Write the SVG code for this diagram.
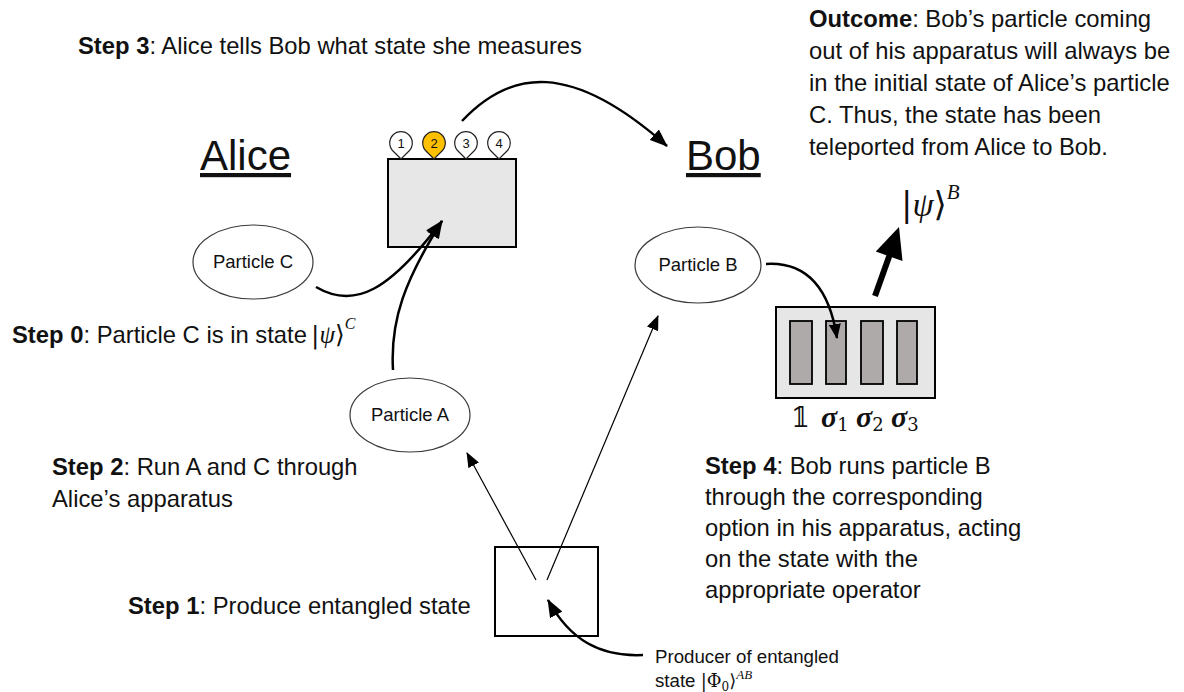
<svg xmlns="http://www.w3.org/2000/svg" width="1184" height="692" viewBox="0 0 1184 692">
<style>
  .t { font-family: "Liberation Sans", Arial, sans-serif; font-size: 23.8px; fill: #111; }
  .s { font-size: 18.7px; }
  .b { font-weight: bold; }
  .lbl { font-family: "Liberation Sans", Arial, sans-serif; font-size: 18.5px; fill: #111; text-anchor: middle; }
  .big { font-family: "Liberation Sans", Arial, sans-serif; font-size: 42px; fill: #111; text-decoration: underline; }
  .m { font-family: "DejaVu Serif", "Liberation Serif", serif; font-style: normal; fill: #111; }
  .mi { font-family: "Liberation Serif", "DejaVu Serif", serif; font-style: italic; fill: #111; }
  .pin { stroke: #222; stroke-width: 1.2; }
  .pnum { font-family: "Liberation Sans", Arial, sans-serif; font-size: 13px; fill: #111; text-anchor: middle; }
  .ell { fill: #fff; stroke: #3a3a3a; stroke-width: 1.2; }
  .c { fill: none; stroke: #000; stroke-width: 2.5; }
  .thin { fill: none; stroke: #000; stroke-width: 1.2; }
</style>
<defs>
  <marker id="ah" markerUnits="userSpaceOnUse" markerWidth="18" markerHeight="14" refX="17" refY="7" orient="auto">
    <path d="M0,0 L18,7 L0,14 z" fill="#000"/>
  </marker>
  <marker id="ahs" markerUnits="userSpaceOnUse" markerWidth="15" markerHeight="12" refX="14" refY="6" orient="auto">
    <path d="M0,0 L15,6 L0,12 z" fill="#000"/>
  </marker>
</defs>
<rect width="1184" height="692" fill="#fff"/>

<!-- Texts -->
<g id="step3-text">
  <text class="t" x="78" y="54"><tspan class="b">Step 3</tspan>: Alice tells Bob what state she measures</text>
</g>
<g id="outcome-text">
  <text class="t" x="809" y="27"><tspan class="b">Outcome</tspan>: Bob’s particle coming</text>
  <text class="t" x="809" y="59">out of his apparatus will always be</text>
  <text class="t" x="809" y="91">in the initial state of Alice’s particle</text>
  <text class="t" x="809" y="123">C. Thus, the state has been</text>
  <text class="t" x="809" y="155">teleported from Alice to Bob.</text>
</g>
<g id="alice-label"><text class="big" x="200" y="170">Alice</text></g>
<g id="bob-label"><text class="big" x="686" y="170">Bob</text></g>

<g id="step0-text">
  <text class="t" x="12" y="343"><tspan class="b">Step 0</tspan>: Particle C is in state </text>
  <text x="311" y="343" font-size="25"><tspan class="m">|</tspan><tspan class="mi">ψ</tspan><tspan class="m">⟩</tspan><tspan class="mi" font-size="16" dy="-14">C</tspan></text>
</g>
<g id="step2-text">
  <text class="t" x="52" y="475"><tspan class="b">Step 2</tspan>: Run A and C through</text>
  <text class="t" x="52" y="507">Alice’s apparatus</text>
</g>
<g id="step1-text">
  <text class="t" x="128" y="614"><tspan class="b">Step 1</tspan>: Produce entangled state</text>
</g>
<g id="step4-text">
  <text class="t" x="705" y="474"><tspan class="b">Step 4</tspan>: Bob runs particle B</text>
  <text class="t" x="705" y="505">through the corresponding</text>
  <text class="t" x="705" y="536">option in his apparatus, acting</text>
  <text class="t" x="705" y="567">on the state with the</text>
  <text class="t" x="705" y="598">appropriate operator</text>
</g>
<g id="producer-text">
  <text class="t s" x="655" y="663">Producer of entangled</text>
  <text class="t s" x="655" y="687">state <tspan class="m" font-size="18">|Φ</tspan><tspan class="m" font-size="12" dy="4">0</tspan><tspan class="m" font-size="18" dy="-4">⟩</tspan><tspan class="mi" font-size="13" dy="-8">AB</tspan></text>
</g>

<!-- Alice's apparatus -->
<g id="alice-apparatus">
  <rect x="388" y="159" width="128" height="88" fill="#e7e7e7" stroke="#000" stroke-width="2"/>
  <path class="pin" fill="#fff" d="M401,159 L393,151 A11.3,11.3 0 1 1 409,151 Z"/>
  <path class="pin" fill="#ffc000" d="M434,159 L426,151 A11.3,11.3 0 1 1 442,151 Z"/>
  <path class="pin" fill="#fff" d="M466,159 L458,151 A11.3,11.3 0 1 1 474,151 Z"/>
  <path class="pin" fill="#fff" d="M499,159 L491,151 A11.3,11.3 0 1 1 507,151 Z"/>
  <text class="pnum" x="401" y="148">1</text>
  <text class="pnum" x="434" y="148">2</text>
  <text class="pnum" x="466" y="148">3</text>
  <text class="pnum" x="499" y="148">4</text>
</g>

<!-- Particles -->
<g id="particle-c">
  <ellipse class="ell" cx="253" cy="262" rx="60" ry="37"/>
  <text class="lbl" x="253" y="268">Particle C</text>
</g>
<g id="particle-a">
  <ellipse class="ell" cx="410" cy="415" rx="60" ry="37"/>
  <text class="lbl" x="410" y="421">Particle A</text>
</g>
<g id="particle-b">
  <ellipse class="ell" cx="698" cy="265" rx="63" ry="38"/>
  <text class="lbl" x="698" y="271">Particle B</text>
</g>

<!-- Bob's apparatus -->
<g id="bob-apparatus">
  <rect x="776" y="307" width="159" height="91" fill="#e7e6e6" stroke="#000" stroke-width="2"/>
  <rect x="790" y="321" width="22" height="63" fill="#aeaaaa" stroke="#000" stroke-width="1.8"/>
  <rect x="826" y="321" width="20" height="63" fill="#aeaaaa" stroke="#000" stroke-width="1.8"/>
  <rect x="861" y="321" width="22" height="63" fill="#aeaaaa" stroke="#000" stroke-width="1.8"/>
  <rect x="897" y="321" width="20" height="63" fill="#aeaaaa" stroke="#000" stroke-width="1.8"/>
  <text class="m" x="791" y="427" font-size="27">𝟙</text>
  <text x="821" y="427" font-size="30"><tspan class="mi" font-weight="bold">σ</tspan><tspan class="m" font-size="18" dy="4">1</tspan></text>
  <text x="856" y="427" font-size="30"><tspan class="mi" font-weight="bold">σ</tspan><tspan class="m" font-size="18" dy="4">2</tspan></text>
  <text x="891" y="427" font-size="30"><tspan class="mi" font-weight="bold">σ</tspan><tspan class="m" font-size="18" dy="4">3</tspan></text>
</g>
<g id="bob-output">
  <text x="901" y="216" font-size="34"><tspan class="m">|</tspan><tspan class="mi">ψ</tspan><tspan class="m">⟩</tspan><tspan class="mi" font-size="21" dy="-17">B</tspan></text>
</g>

<!-- Entangled state producer -->
<g id="entangler">
  <rect x="495" y="547" width="103" height="89" fill="#fff" stroke="#000" stroke-width="2"/>
</g>

<!-- Connectors -->
<g id="connectors">
  <path class="c" d="M462,121 C510,70 570,60 667,146" marker-end="url(#ah)"/>
  <path class="c" d="M316,287 C355,310 390,290 442,221" marker-end="url(#ah)"/>
  <path class="c" d="M393,370 C390,320 405,280 442,221" marker-end="url(#ah)"/>
  <path class="c" stroke-width="2" d="M766,264 C800,262 828,280 837,338" marker-end="url(#ahs)"/>
  <line x1="875" y1="296" x2="890" y2="254" stroke="#000" stroke-width="6"/>
  <polygon points="899,227 875.8,251.6 902.5,261" fill="#000"/>
  <path class="thin" d="M536,580 L467,453" marker-end="url(#ahs)"/>
  <path class="thin" d="M547,580 L658,316" marker-end="url(#ahs)"/>
  <path class="c" d="M643,655 C600,657 570,640 548,600" marker-end="url(#ah)"/>
</g>
</svg>
